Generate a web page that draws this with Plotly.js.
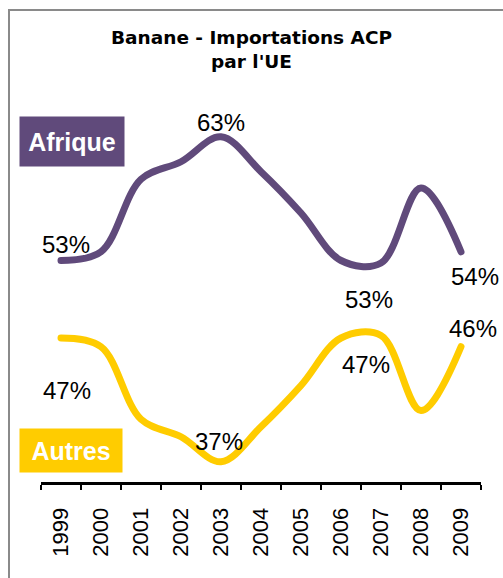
<!DOCTYPE html>
<html>
<head>
<meta charset="utf-8">
<script src="https://cdn.plot.ly/plotly-3.0.1.min.js"></script>
<style>
html,body{margin:0;padding:0;background:#fff;}
#chart{width:503px;height:578px;}
path.js-line{stroke-linecap:round;}
</style>
</head>
<body>
<div id="chart"></div>
<script>
// Data
const years = ['1999','2000','2001','2002','2003','2004','2005','2006','2007','2008','2009'];
const afrique = [53.1, 53.8, 59.6, 61.0, 63.0, 60.2, 56.9, 53.1, 52.9, 58.9, 53.8];
const autres  = [46.9, 46.2, 40.4, 39.0, 37.0, 39.8, 43.1, 46.9, 47.1, 41.1, 46.2];
const seriesNames = ['Afrique', 'Autres'];
const titleText = "Banane - Importations ACP<br>par l'UE";

// Which points get a value label, and pixel offsets for them (style only)
const labelIdx = [0, 4, 8, 10];
const afriqueShift = [[5, 16], [0, 14], [-12, -36], [14, -25]];
const autresShift  = [[6, -52], [-2, 20], [-15, -29], [12, 18]];

const purple = '#604A7B';
const yellow = '#FFCC00';
const FONT = '"Liberation Sans", Arial, sans-serif';

const traces = [
  {x: years, y: afrique, name: seriesNames[0], type: 'scatter', mode: 'lines',
   line: {color: purple, width: 7, shape: 'spline', smoothing: 1}, hoverinfo: 'skip'},
  {x: years, y: autres, name: seriesNames[1], type: 'scatter', mode: 'lines',
   line: {color: yellow, width: 7, shape: 'spline', smoothing: 1}, hoverinfo: 'skip'}
];

const annotations = [];
labelIdx.forEach((i, k) => {
  // category axis: position by category serial number
  annotations.push({x: i, y: afrique[i], xref: 'x', yref: 'y',
    text: Math.round(afrique[i]) + '%', showarrow: false,
    xshift: afriqueShift[k][0], yshift: afriqueShift[k][1],
    font: {family: FONT, size: 24, color: '#000'}});
  annotations.push({x: i, y: autres[i], xref: 'x', yref: 'y',
    text: Math.round(autres[i]) + '%', showarrow: false,
    xshift: autresShift[k][0], yshift: autresShift[k][1],
    font: {family: FONT, size: 24, color: '#000'}});
});

// Series name boxes
const L = 41, R = 22, T = 100, B = 96, W = 503, H = 578;
const pw = W - L - R, ph = H - T - B;
const px = v => (v - L) / pw;
const py = v => (H - B - v) / ph;
annotations.push({xref: 'paper', yref: 'paper', x: px(19), y: py(116), xanchor: 'left', yanchor: 'top',
  text: '<b>' + seriesNames[0] + '</b>', showarrow: false, bgcolor: purple, width: 104, height: 49,
  borderpad: 0, align: 'center', valign: 'middle', font: {family: FONT, size: 25, color: '#fff'}});
annotations.push({xref: 'paper', yref: 'paper', x: px(19), y: py(428), xanchor: 'left', yanchor: 'top',
  text: '<b>' + seriesNames[1] + '</b>', showarrow: false, bgcolor: yellow, width: 102, height: 43,
  borderpad: 0, align: 'center', valign: 'middle', font: {family: FONT, size: 25, color: '#fff'}});

const layout = {
  width: W, height: H,
  margin: {l: L, r: R, t: T, b: B, pad: 0},
  paper_bgcolor: '#fff', plot_bgcolor: '#fff',
  showlegend: false,
  font: {family: FONT, color: '#000'},
  title: {text: titleText, x: 0.5, xref: 'container', xanchor: 'center',
    y: 1 - 44 / H, yref: 'container', yanchor: 'top',
    font: {family: '"DejaVu Sans", sans-serif', size: 18.5, color: '#000', weight: 'bold'}},
  xaxis: {type: 'category', range: [-0.5, 10.5], showgrid: false, zeroline: false,
    showline: true, linecolor: '#000', linewidth: 3,
    ticks: 'outside', ticklen: 5, tickwidth: 2, tickcolor: '#000', tickson: 'boundaries',
    tickangle: -90, ticklabelstandoff: 14,
    tickfont: {family: FONT, size: 22, color: '#000'}, fixedrange: true},
  yaxis: {range: [35.38, 65.94], visible: false, showgrid: false, zeroline: false, fixedrange: true},
  annotations: annotations,
  shapes: [{type: 'rect', xref: 'paper', yref: 'paper', x0: px(9), x1: px(W + 20), y0: py(10), y1: py(H + 20),
    line: {color: '#8a8a8a', width: 2}, fillcolor: 'rgba(0,0,0,0)', layer: 'below'}]
};

Plotly.newPlot('chart', traces, layout, {displayModeBar: false, staticPlot: true});
</script>
</body>
</html>
